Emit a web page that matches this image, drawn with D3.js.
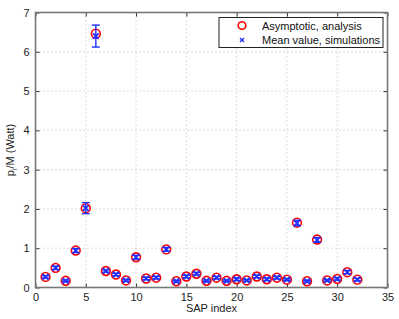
<!DOCTYPE html>
<html><head><meta charset="utf-8">
<script src="https://cdn.jsdelivr.net/npm/d3@7"></script>
<style>body{margin:0;background:#fff;} text{font-family:"Liberation Sans",Arial,sans-serif;}</style>
</head><body>
<svg id="c" width="399" height="319"></svg>
<script>
const sapIndex = d3.range(1, 33);
const analysis = [0.27,0.50,0.17,0.94,2.02,6.46,0.42,0.33,0.18,0.77,0.23,0.25,0.97,0.16,0.28,0.35,
                  0.17,0.25,0.17,0.21,0.18,0.28,0.21,0.25,0.20,1.65,0.16,1.22,0.18,0.22,0.39,0.20];
const simMean = [0.27,0.50,0.17,0.94,2.02,6.40,0.42,0.33,0.18,0.77,0.23,0.25,0.97,0.16,0.28,0.35,
                 0.17,0.25,0.17,0.21,0.18,0.28,0.21,0.25,0.20,1.64,0.16,1.21,0.18,0.22,0.39,0.20];
const simErr = [0.03,0.04,0.02,0.05,0.14,0.28,0.03,0.03,0.02,0.05,0.03,0.03,0.05,0.02,0.03,0.03,
                0.02,0.03,0.02,0.03,0.02,0.03,0.03,0.03,0.02,0.07,0.02,0.06,0.02,0.03,0.04,0.03];
const xTicks = [0,5,10,15,20,25,30,35];
const yTicks = [0,1,2,3,4,5,6,7];
const legendLabels = ["Asymptotic, analysis","Mean value, simulations"];

const svg = d3.select("#c");
const L=35.5, R=387.5, T=12.5, B=287.5;
const x = d3.scaleLinear().domain([0,35]).range([L,R]);
const y = d3.scaleLinear().domain([0,7]).range([B,T]);

// grid
const g = svg.append("g");
g.selectAll(".gx").data(xTicks.slice(1,-1)).join("line")
  .attr("x1",d=>x(d)).attr("x2",d=>x(d)).attr("y1",T).attr("y2",B)
  .attr("stroke","#bbb").attr("stroke-width",1).attr("stroke-dasharray","1,3");
g.selectAll(".gy").data(yTicks.slice(1,-1)).join("line")
  .attr("x1",L).attr("x2",R).attr("y1",d=>y(d)).attr("y2",d=>y(d))
  .attr("stroke","#bbb").attr("stroke-width",1).attr("stroke-dasharray","1,3");

// axes
const fmt = d3.format("d");
const ax = svg.append("g").attr("transform",`translate(0,${B})`)
  .call(d3.axisBottom(x).tickValues(xTicks).tickFormat(fmt).tickSize(-4).tickPadding(6));
const ay = svg.append("g").attr("transform",`translate(${L},0)`)
  .call(d3.axisLeft(y).tickValues(yTicks).tickFormat(fmt).tickSize(-4).tickPadding(6));
const axT = svg.append("g").attr("transform",`translate(0,${T})`)
  .call(d3.axisTop(x).tickValues(xTicks).tickSize(-4).tickFormat(""));
const ayR = svg.append("g").attr("transform",`translate(${R},0)`)
  .call(d3.axisRight(y).tickValues(yTicks).tickSize(-4).tickFormat(""));
[ax,ay,axT,ayR].forEach(a=>{
  a.select(".domain").remove();
  a.selectAll(".tick line").attr("stroke","#333").attr("stroke-width",1);
  a.selectAll("text").attr("font-size",11).attr("fill","#222").attr("font-family","Liberation Sans, Arial, sans-serif");
});
svg.append("rect").attr("x",L).attr("y",T).attr("width",R-L).attr("height",B-T)
  .attr("fill","none").attr("stroke","#777").attr("stroke-width",1.6);

// labels
svg.append("text").attr("x",(L+R)/2).attr("y",312).attr("text-anchor","middle")
  .attr("font-size",11).attr("fill","#222").text("SAP index");
const yl = svg.append("text").attr("transform",`translate(14,${(T+B)/2}) rotate(-90)`)
  .attr("text-anchor","middle").attr("font-size",11).attr("fill","#222");
yl.append("tspan").text("p");
yl.append("tspan").attr("font-size",7).attr("dy",3).text("i");
yl.append("tspan").attr("dy",-3).text("/M (Watt)");

// red circles
svg.append("g").selectAll("circle").data(sapIndex).join("circle")
  .attr("cx",(d)=>x(d)).attr("cy",(d,i)=>y(analysis[i])).attr("r",4.4)
  .attr("fill","none").attr("stroke","#ff0000").attr("stroke-width",1.6);

// error bars
const eb = svg.append("g").attr("stroke","#2030ff").attr("stroke-width",1.4);
sapIndex.forEach((d,i)=>{
  const cx=x(d), y1=y(simMean[i]+simErr[i]), y0=y(simMean[i]-simErr[i]);
  eb.append("line").attr("x1",cx).attr("x2",cx).attr("y1",y1).attr("y2",y0);
  eb.append("line").attr("x1",cx-4).attr("x2",cx+4).attr("y1",y1).attr("y2",y1);
  eb.append("line").attr("x1",cx-4).attr("x2",cx+4).attr("y1",y0).attr("y2",y0);
});
// blue x markers
const xm = svg.append("g").attr("stroke","#2030ff").attr("stroke-width",1.8);
sapIndex.forEach((d,i)=>{
  const cx=x(d), cy=y(simMean[i]), s=2.8;
  xm.append("line").attr("x1",cx-s).attr("x2",cx+s).attr("y1",cy-s).attr("y2",cy+s);
  xm.append("line").attr("x1",cx-s).attr("x2",cx+s).attr("y1",cy+s).attr("y2",cy-s);
});

// legend
const lg = svg.append("g");
lg.append("rect").attr("x",219).attr("y",17.5).attr("width",164).attr("height",30)
  .attr("fill","#fff").attr("stroke","#222").attr("stroke-width",1);
lg.append("circle").attr("cx",242).attr("cy",25.5).attr("r",3.8)
  .attr("fill","none").attr("stroke","#ff0000").attr("stroke-width",1.6);
const lx=242, ly=40, s=2;
lg.append("line").attr("x1",lx-s).attr("x2",lx+s).attr("y1",ly-s).attr("y2",ly+s).attr("stroke","#2030ff").attr("stroke-width",1.4);
lg.append("line").attr("x1",lx-s).attr("x2",lx+s).attr("y1",ly+s).attr("y2",ly-s).attr("stroke","#2030ff").attr("stroke-width",1.4);
lg.selectAll(".lt").data(legendLabels).join("text")
  .attr("x",262).attr("y",(d,i)=>29.5+i*14.5).attr("font-size",11).attr("fill","#111").text(d=>d);
</script>
</body></html>
